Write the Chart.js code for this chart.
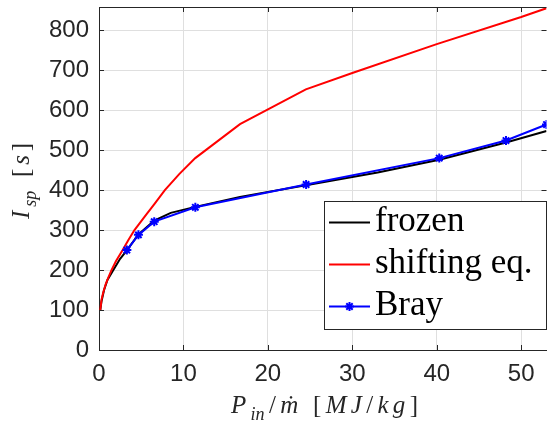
<!DOCTYPE html>
<html>
<head>
<meta charset="utf-8">
<script src="https://cdn.jsdelivr.net/npm/chart.js@4/dist/chart.umd.min.js"></script>
<style>
  html, body { margin: 0; padding: 0; background: #ffffff; }
  #c { display: block; }
</style>
</head>
<body>
<canvas id="c" width="553" height="427"></canvas>
<script>
// Specific impulse vs. specific power input
const frozenX = [0.15, 0.3, 0.6, 1.0, 1.7, 2.5, 3.3, 4.67, 6.54, 8.5, 11.4, 16.7, 24.5, 33, 40.3, 48.2, 53];
const frozenY = [100, 122, 150, 175, 200, 228, 249, 289, 324, 343, 358, 383, 412, 444, 476, 519, 548];

const shiftX = [0.15, 0.3, 0.5, 0.8, 1.1, 1.48, 2.0, 2.8, 3.5, 4.2, 5.5, 6.6, 7.8, 9.5, 11.4, 16.7, 24.5, 30, 40, 50, 53];
const shiftY = [100, 126, 144, 165, 181, 200, 222, 250, 276, 300, 336, 366, 400, 440, 480, 565, 652, 693, 765, 833, 855];

const brayX = [3.3, 4.67, 6.54, 11.41, 24.53, 40.3, 48.2, 53.0];
const brayY = [250, 288, 321, 357, 414, 480, 524, 564];

const seriesNames = ['frozen', 'shifting eq.', 'Bray'];
const xTickStep = 10;
const yTickStep = 100;

const AXIS = '#262626';
const GRID = '#dfdfdf';

function pts(xs, ys) { return xs.map((x, i) => ({ x: x, y: ys[i] })); }

// Draw a sequence of styled text pieces (italic / upright, subscripts),
// with the leftover room shared out between the pieces.
function drawRich(ctx, parts, x, y, size, width) {
  const fontOf = p => (p.it ? 'italic ' : '') + Math.round(p.sub ? size * 0.72 : size) + 'px "Liberation Serif", "DejaVu Serif", serif';
  let natural = 0;
  parts.forEach(p => { ctx.font = fontOf(p); p.w = ctx.measureText(p.t).width; natural += p.w; });
  const extra = parts.length > 1 ? (width - natural) / (parts.length - 1) : 0;
  let cx = x;
  parts.forEach(p => {
    ctx.font = fontOf(p);
    ctx.fillText(p.t, cx, p.sub ? y + size * 0.26 : y);
    cx += p.w + extra;
  });
}

const decorations = {
  id: 'decorations',
  afterDraw(chart) {
    const ctx = chart.ctx;
    const a = chart.chartArea;
    const xs = chart.scales.x, ys = chart.scales.y;
    ctx.save();

    // box top edge and inward tick marks
    ctx.strokeStyle = AXIS;
    ctx.lineWidth = 1;
    ctx.beginPath();
    ctx.moveTo(a.left, Math.round(a.top) + 0.5);
    ctx.lineTo(a.right, Math.round(a.top) + 0.5);
    xs.ticks.forEach(t => {
      const px = Math.round(xs.getPixelForValue(t.value)) + 0.5;
      ctx.moveTo(px, a.bottom); ctx.lineTo(px, a.bottom - 5);
      ctx.moveTo(px, a.top); ctx.lineTo(px, a.top + 5);
    });
    ys.ticks.forEach(t => {
      const py = Math.round(ys.getPixelForValue(t.value)) + 0.5;
      ctx.moveTo(a.left, py); ctx.lineTo(a.left + 5, py);
      ctx.moveTo(a.right, py); ctx.lineTo(a.right - 5, py);
    });
    ctx.stroke();

    // axis titles
    ctx.fillStyle = AXIS;
    ctx.textBaseline = 'alphabetic';
    ctx.textAlign = 'left';
    drawRich(ctx, [
      { t: 'P', it: true }, { t: 'in', it: true, sub: true }, { t: '/', it: false },
      { t: 'ṁ', it: true }, { t: ' ', it: false }, { t: '[', it: false },
      { t: 'M', it: true }, { t: 'J', it: true }, { t: '/', it: false },
      { t: 'k', it: true }, { t: 'g', it: true }, { t: ']', it: false }
    ], 231, 413, 25, 187);

    ctx.save();
    ctx.translate(29, 219);
    ctx.rotate(-Math.PI / 2);
    drawRich(ctx, [
      { t: 'I', it: true }, { t: 'sp', it: true, sub: true }, { t: ' ', it: false },
      { t: '[', it: false }, { t: 's', it: true }, { t: ']', it: false }
    ], 0, 0, 25, 76);
    ctx.restore();

    // legend box
    const bx = 324, by = 201, bw = 222, bh = 128;
    ctx.fillStyle = '#ffffff';
    ctx.fillRect(bx, by, bw, bh);
    ctx.strokeStyle = AXIS;
    ctx.lineWidth = 1;
    ctx.strokeRect(bx + 0.5, by + 0.5, bw, bh);

    const rowsY = [222.5, 264.5, 306.5];
    chart.data.datasets.forEach((ds, i) => {
      const ly = rowsY[i];
      ctx.strokeStyle = ds.borderColor;
      ctx.lineWidth = 2;
      ctx.beginPath();
      ctx.moveTo(329, ly); ctx.lineTo(370, ly);
      ctx.stroke();
      if (ds.pointRadius > 0) {
        ctx.lineWidth = ds.pointBorderWidth;
        const r = ds.pointRadius;
        ctx.beginPath();
        for (let k = 0; k < 4; k++) {
          const ang = k * Math.PI / 4;
          ctx.moveTo(349.5 - r * Math.cos(ang), ly - r * Math.sin(ang));
          ctx.lineTo(349.5 + r * Math.cos(ang), ly + r * Math.sin(ang));
        }
        ctx.stroke();
      }
      ctx.fillStyle = '#000000';
      ctx.font = '35px "Liberation Serif", "DejaVu Serif", serif';
      ctx.fillText(ds.label, 375, ly + 8.5);
    });
    ctx.restore();
  }
};

new Chart(document.getElementById('c'), {
  type: 'line',
  data: {
    datasets: [
      {
        label: seriesNames[0], data: pts(frozenX, frozenY),
        borderColor: '#000000', borderWidth: 2, pointRadius: 0, tension: 0, order: 3
      },
      {
        label: seriesNames[1], data: pts(shiftX, shiftY),
        borderColor: '#ff0000', borderWidth: 2, pointRadius: 0, tension: 0, order: 2
      },
      {
        label: seriesNames[2], data: pts(brayX, brayY),
        borderColor: '#0000ff', backgroundColor: '#0000ff', borderWidth: 2,
        pointStyle: 'star', pointRadius: 4.5, pointBorderWidth: 2,
        pointBorderColor: '#0000ff', pointBackgroundColor: '#0000ff', tension: 0, order: 1
      }
    ]
  },
  options: {
    responsive: false,
    animation: false,
    devicePixelRatio: 1,
    layout: { padding: { top: 7, left: 0, right: 0, bottom: 0 } },
    plugins: { legend: { display: false }, tooltip: { enabled: false } },
    scales: {
      x: {
        type: 'linear', min: 0, max: 53,
        ticks: {
          stepSize: xTickStep, includeBounds: false, padding: 10,
          color: AXIS, font: { family: '"Liberation Sans", Arial, sans-serif', size: 24 },
          maxRotation: 0
        },
        grid: { color: GRID, lineWidth: 1, drawTicks: false },
        border: { color: AXIS, width: 1 },
        afterFit: s => { s.height = 77; s.paddingLeft = 0; s.paddingRight = 0; }
      },
      y: {
        type: 'linear', min: 0, max: 858,
        ticks: {
          stepSize: yTickStep, includeBounds: false, padding: 10,
          color: AXIS, font: { family: '"Liberation Sans", Arial, sans-serif', size: 24 }
        },
        grid: { color: GRID, lineWidth: 1, drawTicks: false },
        border: { color: AXIS, width: 1 },
        afterFit: s => { s.width = 99; s.paddingTop = 0; s.paddingBottom = 0; }
      }
    }
  },
  plugins: [decorations]
});
</script>
</body>
</html>
